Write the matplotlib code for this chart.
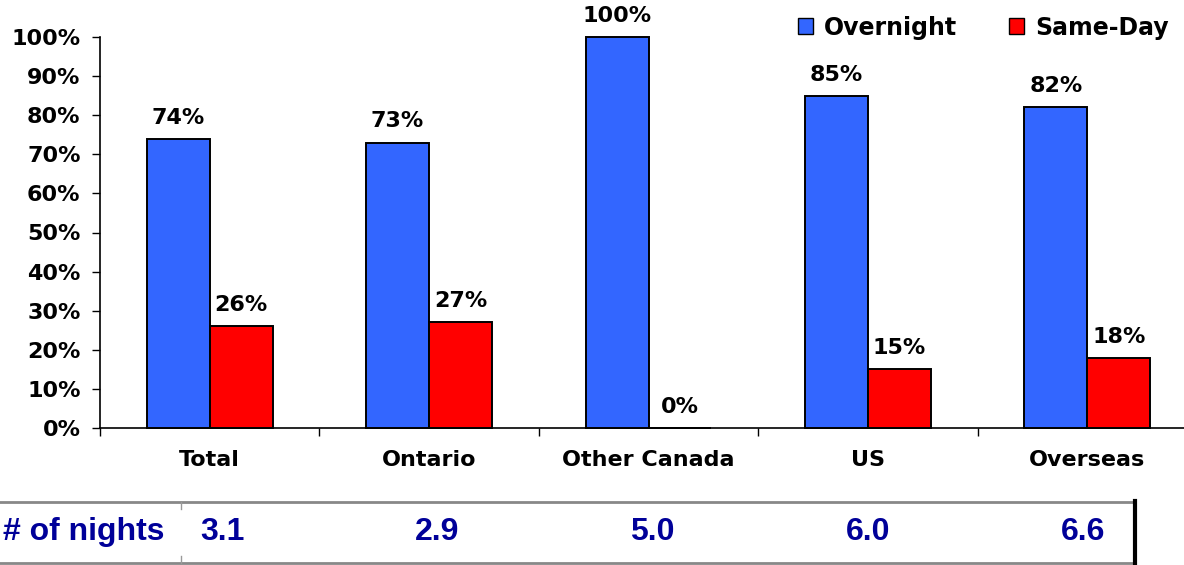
import matplotlib.pyplot as plt
from matplotlib.patches import Patch
import numpy as np

categories = ['Total', 'Ontario', 'Other Canada', 'US', 'Overseas']
overnight = [74, 73, 100, 85, 82]
same_day = [26, 27, 0, 15, 18]
nights = ['3.1', '2.9', '5.0', '6.0', '6.6']

BLUE = '#3366FF'
RED = '#FF0000'
NAVY = '#000099'

plt.rcParams['font.family'] = ['DejaVu Sans']
plt.rcParams['font.weight'] = 'bold'

fig = plt.figure(figsize=(11.84, 5.65), dpi=100)
ax = fig.add_axes([100 / 1184, 137 / 565, 1097 / 1184, 391 / 565])

x = np.arange(len(categories))
w = 0.287
b1 = ax.bar(x - w / 2, overnight, w, color=BLUE, edgecolor='black', linewidth=1.4, clip_on=False, zorder=3)
b2 = ax.bar(x + w / 2, same_day, w, color=RED, edgecolor='black', linewidth=1.4, clip_on=False, zorder=3)

for bars, vals in [(b1, overnight), (b2, same_day)]:
    for rect, v in zip(bars, vals):
        ax.annotate(f'{v}%', (rect.get_x() + rect.get_width() / 2, v),
                    xytext=(0, 8), textcoords='offset points',
                    ha='center', va='bottom', fontsize=16, fontweight='bold')

ax.set_xlim(-0.5, len(categories) - 0.5)
ax.set_ylim(0, 100)
ax.set_yticks(range(0, 101, 10))
ax.set_yticklabels([f'{v}%' for v in range(0, 101, 10)], fontsize=16, fontweight='bold')
ax.tick_params(axis='y', length=6, width=1, pad=8)

# group boundaries as major ticks, category names on minor ticks
ax.set_xticks(np.arange(len(categories) + 1) - 0.5)
ax.set_xticklabels([])
ax.tick_params(axis='x', which='major', length=6, width=1, direction='out')
ax.set_xticks(x, minor=True)
ax.set_xticklabels(categories, minor=True, fontsize=16, fontweight='bold')
ax.tick_params(axis='x', which='minor', length=0, pad=16)

for s in ['top', 'right']:
    ax.spines[s].set_visible(False)
ax.spines['left'].set_linewidth(1.2)
ax.spines['bottom'].set_linewidth(1.2)

# legend in the top right corner
handles = [Patch(facecolor=BLUE, edgecolor='black', label='Overnight'),
           Patch(facecolor=RED, edgecolor='black', label='Same-Day')]
fig.legend(handles=handles, loc='upper right', bbox_to_anchor=(1.005, 1.01), ncol=2,
           frameon=False, handlelength=0.65, handleheight=0.65,
           handletextpad=0.45, columnspacing=2.2, prop={'weight': 'bold', 'size': 17})

# nights row below the chart
row_y = 0.058
line_y0, line_y1 = 1 - 502 / 565, 1 - 563 / 565
box_r = 1135 / 1184
fig.add_artist(plt.Line2D([0, box_r], [line_y0] * 2, color='#888888', lw=2))
fig.add_artist(plt.Line2D([0, box_r], [line_y1] * 2, color='#888888', lw=2))
fig.add_artist(plt.Line2D([box_r] * 2, [line_y0 + 0.002, line_y1 - 0.002], color='black', lw=3))
fig.add_artist(plt.Line2D([181 / 1184] * 2, [line_y0, line_y0 - 0.012], color='#999999', lw=1))
fig.add_artist(plt.Line2D([181 / 1184] * 2, [line_y1, line_y1 + 0.012], color='#999999', lw=1))
fig.text(3 / 1184, row_y, '# of nights', color=NAVY, fontsize=23, fontweight='bold',
         family='Liberation Sans', va='center', ha='left')
col_x = np.linspace(222, 1083, len(nights)) / 1184
for cx, n in zip(col_x, nights):
    fig.text(cx, row_y, n, color=NAVY, fontsize=23, fontweight='bold',
             family='Liberation Sans', va='center', ha='center')

fig.savefig('out.png', dpi=100)
